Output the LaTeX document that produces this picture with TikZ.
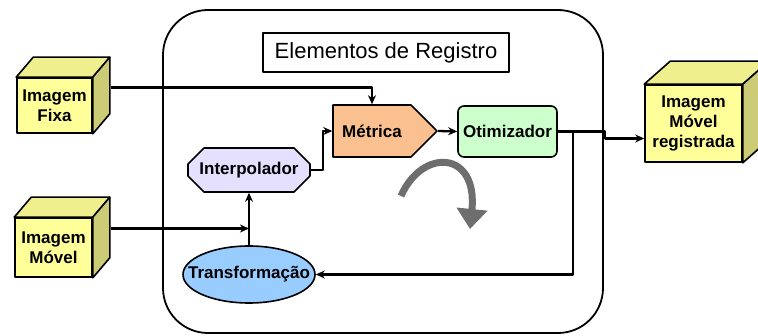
\documentclass[tikz,border=0pt]{standalone}
\usepackage{fontspec}
\setmainfont{Liberation Sans}
\usetikzlibrary{shapes.geometric,shapes.misc,shapes.symbols,arrows.meta}
\definecolor{cubefront}{HTML}{FFFF99}
\definecolor{cubetop}{HTML}{EFEF8E}
\definecolor{cubeside}{HTML}{CCCC77}
\definecolor{metricafill}{HTML}{FAC090}
\definecolor{interpfill}{HTML}{E6E0FF}
\definecolor{otimfill}{HTML}{CCFFCC}
\definecolor{transffill}{HTML}{99CCFF}
\definecolor{arrowgray}{HTML}{6E6E6E}
\begin{document}
\begin{tikzpicture}[x=1pt,y=-1pt,>={Stealth[length=9pt,width=8pt]},line width=1.6pt,line join=round,
  font=\fontsize{17}{20}\selectfont\bfseries,
  cube/.style={draw,fill=cubefront,align=center,inner sep=0pt},
  blk/.style={draw,inner sep=0pt,minimum height=51pt},
  conn/.style={->,line width=2.3pt}]
\useasboundingbox (0,0) rectangle (758,336);
% register box
\node[draw,rounded corners=45pt,minimum width=440pt,minimum height=323pt,line width=1.8pt] (elem) at (383,171.5) {};
\node[draw,minimum width=246pt,minimum height=39pt,inner sep=0pt,font=\fontsize{22}{24}\selectfont] (titulo) at (386,52.5) {Elementos de Registro};
% images
\node[cube,minimum width=75pt,minimum height=55pt] (fixa) at (54.5,105.5) {Imagem\\Fixa};
\node[cube,minimum width=77pt,minimum height=59pt] (movel) at (53.5,247.5) {Imagem\\Móvel};
\node[cube,minimum width=97pt,minimum height=77pt] (reg) at (693.5,123.5) {Imagem\\Móvel\\registrada};
\foreach \n/\dx/\dy in {fixa/17/20,movel/17/20,reg/26/23}{
  \draw[fill=cubetop] (\n.north west) -- ++(\dx,-\dy) -- ([shift={(\dx,-\dy)}]\n.north east) -- (\n.north east) -- cycle;
  \draw[fill=cubeside] (\n.north east) -- ++(\dx,-\dy) -- ([shift={(\dx,-\dy)}]\n.south east) -- (\n.south east) -- cycle;
}
% elements
\node[blk,signal,signal to=east,signal pointer angle=90,fill=metricafill,minimum width=104pt,minimum height=52pt] (metrica) at (372,131) {Métrica};
\node[blk,rounded corners=6pt,fill=otimfill,minimum width=99pt] (otim) at (507.5,131.5) {Otimizador};
\node[blk,chamfered rectangle,chamfered rectangle xsep=8pt,chamfered rectangle ysep=8pt,fill=interpfill,minimum width=122pt,minimum height=44pt] (interp) at (249,170) {Interpolador};
\node[draw,ellipse,inner sep=0pt,fill=transffill,minimum width=132pt,minimum height=57pt] (transf) at (249,274.5) {\makebox[0pt]{Transformação}};
% connectors
\draw[conn] ([shift={(18,-18)}]fixa.east) -| (metrica.north);
\draw[conn] (interp.east) -- ++(12,0) |- (metrica.west);
\draw[conn] (metrica.east) -- (otim.west);
\draw[conn] (otim.east) -- ++(15,0) |- (transf.east);
\draw[conn] (otim.east) -- ++(47,0) |- ([yshift=-15]reg.west);
\path ([shift={(18,-19)}]movel.east) coordinate (mv);
\draw[conn] (mv) -- (mv -| transf.north);
\draw[conn] (transf.north) -- (interp.south);
% loop arrow
\draw[line width=7pt,draw=arrowgray,-{Triangle[width=30pt,length=20pt]}] (401,196) .. controls (422,148) and (478,150) .. (470,229);
\end{tikzpicture}
\end{document}
